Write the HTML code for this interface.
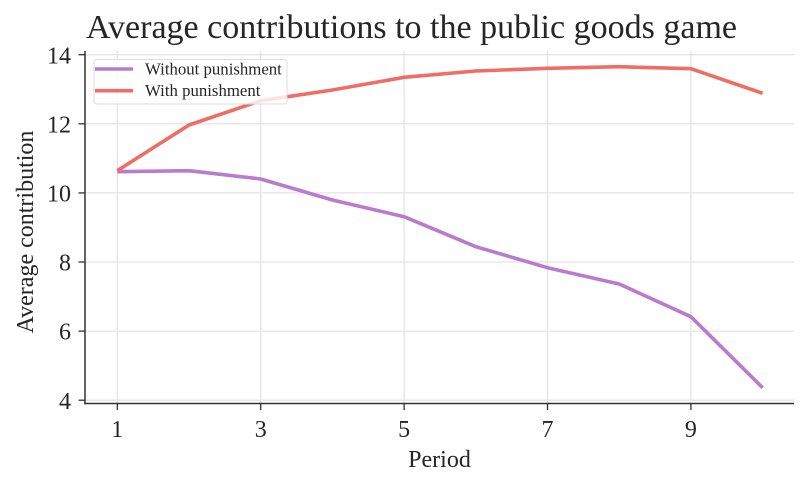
<!DOCTYPE html>
<html>
<head>
<meta charset="utf-8">
<style>
  html, body { margin: 0; padding: 0; background: #ffffff; }
  svg { display: block; }
  text { font-family: "Liberation Serif", "DejaVu Serif", serif; fill: #262626; }
</style>
</head>
<body>
<svg width="809" height="486" viewBox="0 0 809 486" xmlns="http://www.w3.org/2000/svg">
  <rect x="0" y="0" width="809" height="486" fill="#ffffff"/>

  <!-- Title -->
  <text x="86" y="38" font-size="34" textLength="651" lengthAdjust="spacingAndGlyphs">Average contributions to the public goods game</text>

  <!-- Grid -->
  <g stroke="#e4e4e4" stroke-width="1.3">
    <line x1="85" y1="54.7" x2="794" y2="54.7"/>
    <line x1="85" y1="123.8" x2="794" y2="123.8"/>
    <line x1="85" y1="192.9" x2="794" y2="192.9"/>
    <line x1="85" y1="262" x2="794" y2="262"/>
    <line x1="85" y1="331.1" x2="794" y2="331.1"/>
    <line x1="85" y1="400.2" x2="794" y2="400.2"/>
    <line x1="117.3" y1="51" x2="117.3" y2="403.5"/>
    <line x1="260.7" y1="51" x2="260.7" y2="403.5"/>
    <line x1="404.1" y1="51" x2="404.1" y2="403.5"/>
    <line x1="547.5" y1="51" x2="547.5" y2="403.5"/>
    <line x1="690.9" y1="51" x2="690.9" y2="403.5"/>
  </g>

  <!-- Series -->
  <polyline fill="none" stroke="#b97bcb" stroke-width="3.6" stroke-linejoin="round"
    points="117.3,171.7 189,170.7 260.7,179 332.4,200 404.1,216.7 475.8,246.7 547.5,267.7 619.2,284 690.9,316.7 762.6,387.7"/>
  <polyline fill="none" stroke="#ee6e66" stroke-width="3.6" stroke-linejoin="round"
    points="117.3,170.7 189,125 260.7,100.7 332.4,90 404.1,77.3 475.8,71 547.5,68.3 619.2,66.7 690.9,68.7 762.6,93.3"/>

  <!-- Spines -->
  <g stroke="#333333" stroke-width="1.5" fill="none">
    <line x1="85" y1="51" x2="85" y2="404.2"/>
    <line x1="84.3" y1="403.5" x2="794" y2="403.5"/>
  </g>

  <!-- Y ticks -->
  <g stroke="#333333" stroke-width="1.3">
    <line x1="78.5" y1="54.7" x2="85" y2="54.7"/>
    <line x1="78.5" y1="123.8" x2="85" y2="123.8"/>
    <line x1="78.5" y1="192.9" x2="85" y2="192.9"/>
    <line x1="78.5" y1="262" x2="85" y2="262"/>
    <line x1="78.5" y1="331.1" x2="85" y2="331.1"/>
    <line x1="78.5" y1="400.2" x2="85" y2="400.2"/>
  </g>
  <g font-size="24" text-anchor="end">
    <text x="71" y="63.3">14</text>
    <text x="71" y="132.4">12</text>
    <text x="71" y="201.5">10</text>
    <text x="71" y="270.6">8</text>
    <text x="71" y="339.7">6</text>
    <text x="71" y="408.8">4</text>
  </g>

  <!-- X ticks -->
  <g stroke="#333333" stroke-width="1.3">
    <line x1="117.3" y1="403.5" x2="117.3" y2="410"/>
    <line x1="260.7" y1="403.5" x2="260.7" y2="410"/>
    <line x1="404.1" y1="403.5" x2="404.1" y2="410"/>
    <line x1="547.5" y1="403.5" x2="547.5" y2="410"/>
    <line x1="690.9" y1="403.5" x2="690.9" y2="410"/>
  </g>
  <g font-size="24" text-anchor="middle">
    <text x="117.3" y="437">1</text>
    <text x="260.7" y="437">3</text>
    <text x="404.1" y="437">5</text>
    <text x="547.5" y="437">7</text>
    <text x="690.9" y="437">9</text>
  </g>

  <!-- Axis labels -->
  <text x="439.5" y="467" font-size="24" text-anchor="middle">Period</text>
  <text transform="translate(33,232) rotate(-90)" font-size="24" text-anchor="middle">Average contribution</text>

  <!-- Legend -->
  <rect x="94" y="59.5" width="193" height="44.5" rx="3" ry="3" fill="#ffffff" fill-opacity="0.8" stroke="#dddddd" stroke-width="1"/>
  <line x1="95" y1="69" x2="133" y2="69" stroke="#b97bcb" stroke-width="3.6"/>
  <line x1="95" y1="90.7" x2="133" y2="90.7" stroke="#ee6e66" stroke-width="3.6"/>
  <text x="145" y="74.5" font-size="16.8">Without punishment</text>
  <text x="145" y="96" font-size="16.8">With punishment</text>
</svg>
</body>
</html>
